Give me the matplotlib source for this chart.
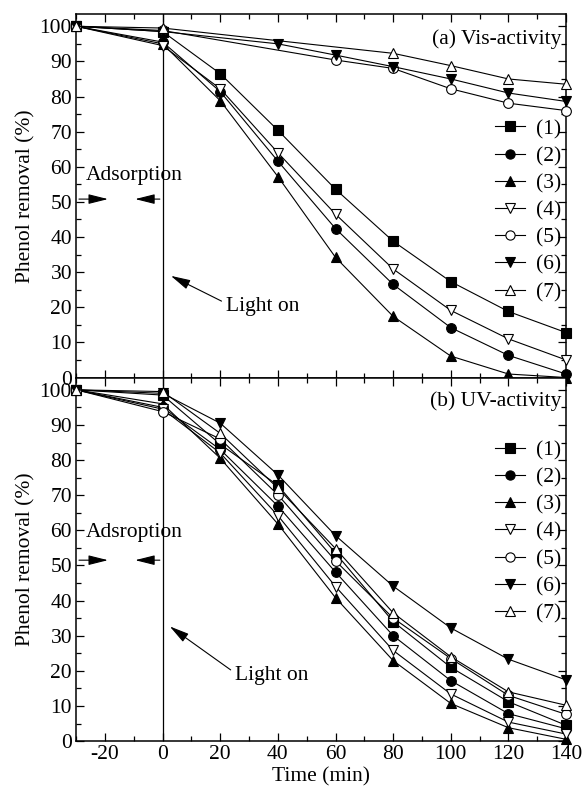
import matplotlib
matplotlib.use("Agg")
import matplotlib.pyplot as plt
from matplotlib.ticker import MultipleLocator

plt.rcParams["font.family"] = ["Liberation Serif", "DejaVu Serif"]
plt.rcParams["axes.unicode_minus"] = False

# time points (min)
t_all = [-30, 0, 20, 40, 60, 80, 100, 120, 140]
labels = ["(1)", "(2)", "(3)", "(4)", "(5)", "(6)", "(7)"]

# (a) Vis-activity
vis_x = [
    t_all,
    t_all,
    t_all,
    t_all,
    [-30, 0, 60, 80, 100, 120, 140],
    [-30, 0, 40, 60, 80, 100, 120, 140],
    [-30, 0, 80, 100, 120, 140],
]
vis_y = [
    [100, 98.5, 86.5, 70.4, 53.6, 38.8, 27.3, 18.8, 12.8],
    [100, 95.5, 81.4, 61.6, 42.4, 26.5, 14.2, 6.3, 1.0],
    [100, 95.0, 78.8, 57.2, 34.2, 17.4, 6.1, 1.0, 0.0],
    [100, 94.5, 82.2, 64.0, 46.5, 30.9, 19.1, 11.0, 5.0],
    [100, 98.8, 90.4, 88.0, 82.2, 78.1, 76.0],
    [100, 98.5, 95.0, 91.8, 88.5, 85.0, 81.0, 78.6],
    [100, 99.5, 92.3, 88.8, 85.0, 83.5],
]

# (b) UV-activity
uv_y = [
    [100, 98.5, 84.5, 72.8, 53.5, 34.0, 21.0, 11.2, 4.5],
    [100, 95.0, 83.0, 66.9, 48.1, 30.0, 17.2, 7.8, 3.5],
    [100, 96.0, 80.5, 61.8, 40.8, 22.9, 10.7, 3.8, 0.5],
    [100, 94.5, 82.0, 64.2, 44.0, 25.8, 13.4, 5.4, 2.0],
    [100, 93.8, 86.0, 70.1, 51.3, 35.0, 23.5, 13.0, 7.6],
    [100, 99.0, 90.5, 75.8, 58.5, 44.1, 32.2, 23.3, 17.4],
    [100, 99.5, 87.6, 72.0, 54.8, 36.5, 24.0, 14.0, 10.2],
]

markers = ["s", "o", "^", "v", "o", "v", "^"]
faces = ["k", "k", "k", "w", "w", "k", "w"]
FS = 15.5

fig = plt.figure(figsize=(5.86, 7.99), dpi=100)
ax1 = fig.add_axes([0.130, 0.5275, 0.836, 0.455])
ax2 = fig.add_axes([0.130, 0.0725, 0.836, 0.455])


def style_axis(ax):
    ax.set_xlim(-30, 140)
    ax.set_ylim(0, 103.5)
    ax.xaxis.set_major_locator(MultipleLocator(20))
    ax.xaxis.set_minor_locator(MultipleLocator(10))
    ax.yaxis.set_major_locator(MultipleLocator(10))
    ax.yaxis.set_minor_locator(MultipleLocator(5))
    ax.tick_params(which="both", direction="in", top=True, right=True, labelsize=FS, pad=3)
    ax.tick_params(which="major", length=6, width=0.9)
    ax.tick_params(which="minor", length=3.5, width=0.9)
    for s in ax.spines.values():
        s.set_linewidth(1.1)
    ax.set_ylabel("Phenol removal (%)", fontsize=FS, labelpad=3)
    ax.axvline(0, color="k", lw=0.9)


def draw(ax, xs, ys):
    for x, y, m, fc, lab in zip(xs, ys, markers, faces, labels):
        ax.plot(x, y, marker=m, color="k", mfc=fc, mec="k", ms=7, lw=0.8,
                mew=0.8, label=lab, clip_on=False, zorder=3)


def arrows(ax, text, y_text, y_arr, light_text, light_from, light_to):
    ax.text(-26.5, y_text, text, fontsize=FS, va="center", ha="left")
    ap = dict(arrowstyle="-|>,head_length=1.2,head_width=0.3", color="k", lw=0.8)
    ax.annotate("", xy=(-18.0, y_arr), xytext=(-30, y_arr), arrowprops=ap)
    ax.annotate("", xy=(-10.5, y_arr), xytext=(0, y_arr), arrowprops=ap)
    ax.annotate("", xy=light_to, xytext=light_from, arrowprops=ap)
    ax.text(light_from[0] + 0.8, light_from[1] - 1.2, light_text, fontsize=FS,
            va="center", ha="left")


def add_legend(ax, y_anchor):
    ax.legend(loc="upper right", bbox_to_anchor=(1.008, y_anchor), frameon=False,
              fontsize=FS, handlelength=1.4, handletextpad=0.5, labelspacing=0.33,
              borderaxespad=0.0, markerscale=0.95)


style_axis(ax1)
draw(ax1, vis_x, vis_y)
ax1.tick_params(labelbottom=False)
ax1.text(138.5, 96.2, "(a) Vis-activity", fontsize=FS, ha="right", va="center")
arrows(ax1, "Adsorption", 57.4, 50.8, "Light on", (21.3, 21.4), (2.0, 29.3))
add_legend(ax1, 0.735)

style_axis(ax2)
draw(ax2, [t_all] * 7, uv_y)
ax2.set_xlabel("Time (min)", fontsize=FS, labelpad=2)
ax2.text(138.5, 96.7, "(b) UV-activity", fontsize=FS, ha="right", va="center")
arrows(ax2, "Adsroption", 59.5, 51.5, "Light on", (24.4, 19.8), (1.7, 33.1))
add_legend(ax2, 0.851)

fig.savefig("out.png", dpi=100)
